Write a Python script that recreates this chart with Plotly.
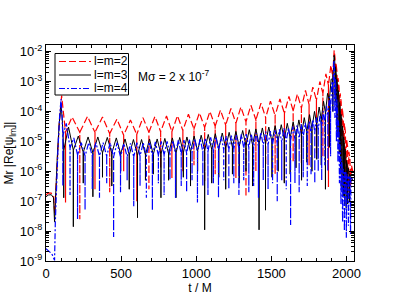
import plotly.graph_objects as go

# ---------------- data ----------------
# l=m=2 (red dashed)
r_pre_t = [0, 15, 35, 50, 58, 65, 75, 88, 104, 115, 122]
r_pre_v = [1.6e-7, 1.9e-7, 1.85e-7, 1.5e-7, 4e-8, 2e-7, 3e-6, 4e-5, 3.4e-4, 1e-4, 4e-5]
r_hump_t = [173, 276, 376, 472, 562, 645, 725, 802, 875, 948, 1021, 1091, 1161, 1231, 1297,
            1364, 1431, 1494, 1557, 1617, 1673, 1727, 1776, 1823, 1863, 1896]
r_hump_v = [6.5e-5, 6.8e-5, 6.5e-5, 5.5e-5, 5.2e-5, 6.2e-5, 6.8e-5, 7.0e-5, 7.2e-5, 8.0e-5,
            9.0e-5, 1.0e-4, 1.1e-4, 1.25e-4, 1.4e-4, 1.6e-4, 1.9e-4, 2.2e-4, 2.6e-4, 3.2e-4,
            3.8e-4, 5.0e-4, 6.5e-4, 1.0e-3, 1.8e-3, 3.5e-3]
r_dip_t = [130, 225, 326, 424, 517, 604, 685, 763, 838, 911, 985, 1056, 1126, 1196, 1264,
           1331, 1397, 1462, 1525, 1587, 1645, 1700, 1751, 1800, 1843, 1880, 1908]
r_floor_v = [2e-5, 2e-5, 2e-5, 1.8e-5, 1.6e-5, 1.7e-5, 2e-5, 2.1e-5, 2.1e-5, 2.3e-5, 2.6e-5,
             2.9e-5, 3.2e-5, 3.5e-5, 4e-5, 4.5e-5, 5.2e-5, 6.2e-5, 7.2e-5, 8.6e-5, 1.05e-4,
             1.3e-4, 1.7e-4, 2.4e-4, 4e-4, 7.5e-4, 1.5e-3]
r_dip_v = [9e-8, 2.5e-8, 2.5e-7, 2e-7, 1e-6, 1e-7, 2.5e-7, 1.3e-6, 6e-7, 1e-6, 1.6e-6, 4.5e-7,
           8e-7, 1.3e-6, 6e-7, 1.4e-7, 1e-6, 1.6e-6, 8e-7, 4.5e-7, 2e-6, 1.8e-6, 1.6e-6, 4e-6,
           3e-6, 3e-7, 3e-4]
r_post_t = [1918, 1924, 1927, 1930, 1937, 1940, 1944, 1951, 1954, 1958, 1965, 1968, 1972,
            1979, 1982, 1986, 1993, 1996, 2000, 2007, 2011, 2016, 2023, 2027, 2033, 2042]
r_post_v = [1.1e-2, 6e-3, 3e-4, 4.2e-3, 2e-3, 6e-5, 1.3e-3, 6e-4, 1e-5, 4e-4, 2e-4, 2e-6,
            1.3e-4, 6e-5, 5e-7, 4e-5, 2e-5, 2e-7, 1.2e-5, 7e-6, 2e-7, 4.5e-6, 2.5e-6, 3e-7,
            1.6e-6, 1e-6]

# l=m=3 (black solid)
b_pre_t = [0, 15, 35, 50, 57, 64, 75, 88, 100, 108, 113]
b_pre_v = [1.4e-7, 1.6e-7, 1.65e-7, 1.3e-7, 2e-8, 2e-7, 3e-6, 4e-5, 1.6e-4, 6e-5, 2e-5]
b_hump_t = [150, 215, 280, 345, 408, 468, 526, 582, 636, 689, 740, 791, 841, 890, 938, 986,
            1033, 1080, 1127, 1173, 1219, 1264, 1309, 1353, 1397, 1440, 1483, 1525, 1566,
            1606, 1645, 1683, 1719, 1754, 1787, 1818, 1847, 1874, 1898]
b_hump_v = [3e-5, 1.5e-5, 1.4e-5, 1.4e-5, 1.35e-5, 1.3e-5, 1.2e-5, 1.15e-5, 1.15e-5, 1.2e-5,
            1.2e-5, 1.25e-5, 1.3e-5, 1.35e-5, 1.4e-5, 1.5e-5, 1.6e-5, 1.7e-5, 1.8e-5, 1.9e-5,
            2.0e-5, 2.15e-5, 2.3e-5, 2.45e-5, 2.6e-5, 2.8e-5, 3.0e-5, 3.3e-5, 3.6e-5, 4.0e-5,
            4.5e-5, 5.2e-5, 6.2e-5, 7.8e-5, 1.0e-4, 1.4e-4, 2.2e-4, 4.0e-4, 1.2e-3]
b_dip_t = [118, 182, 248, 312, 376, 438, 497, 554, 609, 662, 714, 765, 816, 865, 914, 962,
           1009, 1056, 1103, 1150, 1196, 1241, 1286, 1331, 1375, 1418, 1461, 1504, 1545, 1586,
           1625, 1664, 1701, 1736, 1770, 1802, 1832, 1860, 1886, 1909]
b_floor_v = [5e-6, 5e-6, 4.3e-6, 4.2e-6, 4.1e-6, 4e-6, 3.8e-6, 3.5e-6, 3.4e-6, 3.5e-6, 3.6e-6,
             3.7e-6, 3.8e-6, 4e-6, 4.1e-6, 4.4e-6, 4.7e-6, 5e-6, 5.3e-6, 5.6e-6, 5.9e-6,
             6.3e-6, 6.7e-6, 7.1e-6, 7.6e-6, 8.1e-6, 8.7e-6, 9.5e-6, 1.04e-5, 1.15e-5, 1.3e-5,
             1.45e-5, 1.7e-5, 2.1e-5, 2.7e-5, 3.6e-5, 5.4e-5, 9e-5, 2.4e-4, 1.2e-3]
b_dip_v = [1.3e-7, 1.4e-8, 4e-7, 1.4e-7, 6.3e-7, 3.2e-7, 1e-6, 2.5e-7, 2.8e-8, 5e-7, 8e-7,
           1.3e-7, 5e-7, 1.3e-7, 6.3e-7, 3.2e-7, 1e-6, 1.1e-8, 4e-7, 6.3e-7, 2.5e-7, 8e-7,
           4e-7, 1e-6, 3.2e-7, 1.1e-8, 5e-8, 6.3e-7, 1e-6, 4e-7, 8e-7, 1.3e-6, 5e-7, 2e-6,
           1e-6, 2.5e-6, 1.6e-6, 2.5e-7, 6.3e-6, 1e-4]
b_post_t = [1918, 1922, 1925, 1927, 1932, 1934, 1936, 1941, 1943, 1945, 1950, 1952, 1954, 1959,
            1961, 1963, 1968, 1970, 1972, 1977, 1979, 1981, 1986, 1988, 1990, 1996, 1998, 2000,
            2006, 2008, 2010, 2018, 2020, 2022, 2032, 2042]
b_post_v = [7.5e-3, 4.5e-3, 2e-4, 3.1e-3, 1.8e-3, 5e-5, 1.2e-3, 7e-4, 1.5e-5, 5e-4, 3e-4, 4e-6,
            2e-4, 1.2e-4, 1e-6, 8e-5, 5e-5, 3e-7, 3.3e-5, 2e-5, 1.5e-7, 1.4e-5, 8e-6, 8e-8,
            5.5e-6, 3e-6, 6e-8, 2.3e-6, 1.6e-6, 8e-8, 1.3e-6, 9e-7, 1e-7, 8e-7, 6e-7, 5e-7]

# l=m=4 (blue dash-dot)
u_pre_t = [0, 15, 30, 42, 52, 57, 62, 70, 80, 90, 100, 106]
u_pre_v = [2.6e-9, 2.3e-9, 1.9e-9, 1.6e-9, 1.2e-9, 1.05e-9, 2e-8, 5e-7, 6e-6, 6e-5, 2.6e-4, 8e-5]
u_hump_t = [135, 185, 235, 284, 332, 380, 427, 473, 518, 562, 605, 647, 688, 728, 767, 806,
            844, 881, 918, 954, 990, 1026, 1061, 1096, 1131, 1166, 1200, 1234, 1267, 1300,
            1333, 1366, 1398, 1430, 1462, 1493, 1524, 1554, 1584, 1614, 1643, 1671, 1699,
            1726, 1752, 1777, 1801, 1824, 1846, 1867, 1886, 1903]
u_hump_v = [4e-5, 1.3e-5, 9e-6, 9e-6, 9e-6, 9e-6, 9e-6, 9e-6, 8.5e-6, 8.5e-6, 9e-6, 9e-6,
            9.5e-6, 9.5e-6, 1e-5, 1e-5, 1.05e-5, 1.1e-5, 1.1e-5, 1.15e-5, 1.2e-5, 1.25e-5,
            1.3e-5, 1.35e-5, 1.4e-5, 1.45e-5, 1.5e-5, 1.55e-5, 1.6e-5, 1.7e-5, 1.75e-5, 1.8e-5,
            1.9e-5, 2e-5, 2.1e-5, 2.2e-5, 2.35e-5, 2.5e-5, 2.7e-5, 2.9e-5, 3.1e-5, 3.4e-5,
            3.7e-5, 4.1e-5, 4.6e-5, 5.3e-5, 6.2e-5, 7.5e-5, 1.0e-4, 1.5e-4, 3e-4, 1e-3]
u_dip_t = [112, 160, 210, 260, 308, 356, 404, 450, 496, 540, 584, 626, 668, 708, 748, 786,
           825, 862, 900, 936, 972, 1008, 1044, 1078, 1114, 1148, 1183, 1217, 1250, 1284,
           1316, 1350, 1382, 1414, 1446, 1478, 1508, 1539, 1569, 1599, 1628, 1657, 1685,
           1712, 1739, 1764, 1789, 1812, 1835, 1856, 1876, 1894, 1910]
u_floor_v = [1.5e-5, 6e-6, 3.5e-6, 3.2e-6, 3.2e-6, 3.2e-6, 3.2e-6, 3e-6, 3e-6, 3e-6, 3e-6,
             3.2e-6, 3.2e-6, 3.3e-6, 3.4e-6, 3.5e-6, 3.6e-6, 3.8e-6, 3.9e-6, 4e-6, 4.1e-6,
             4.3e-6, 4.4e-6, 4.6e-6, 4.8e-6, 5e-6, 5.2e-6, 5.3e-6, 5.5e-6, 5.8e-6, 6e-6,
             6.2e-6, 6.5e-6, 6.8e-6, 7.2e-6, 7.6e-6, 8e-6, 8.5e-6, 9.2e-6, 1e-5, 1.05e-5,
             1.15e-5, 1.25e-5, 1.4e-5, 1.5e-5, 1.75e-5, 2e-5, 2.4e-5, 3e-5, 4e-5, 6e-5,
             1.2e-4, 6e-4]
u_dip_v = [3.2e-7, 1.6e-7, 2.5e-8, 5e-8, 2.5e-7, 1.3e-7, 4e-7, 6.3e-9, 2e-7, 5e-7, 6.8e-8,
           3.2e-7, 1.3e-7, 5e-8, 4e-7, 1.6e-7, 5e-7, 1.3e-7, 3.2e-7, 2e-7, 5e-7, 9e-8, 3.2e-7,
           1.6e-7, 4e-7, 1.3e-7, 5e-7, 2.5e-7, 4e-7, 1.6e-7, 5e-7, 2e-7, 3.2e-7, 1.3e-7, 5e-7,
           2.5e-7, 4e-7, 1e-7, 5e-7, 2.5e-7, 1.6e-8, 4e-7, 2e-7, 6.3e-7, 3.2e-7, 8e-7, 4e-7,
           1e-6, 5e-7, 1.6e-6, 1e-6, 3.2e-6, 1e-4]
u_post_t = [1916, 1920, 1923, 1926, 1930, 1933, 1936, 1940, 1943, 1946, 1950, 1953, 1956,
            1960, 1963, 1966, 1971, 1974, 1977, 1983, 1986, 1989, 1996, 1999, 2002, 2010,
            2013, 2016, 2024, 2027, 2030, 2038, 2042]
u_post_v = [5e-3, 2.5e-3, 6e-5, 1.2e-3, 5e-4, 1e-5, 2.5e-4, 1e-4, 2e-6, 5e-5, 2e-5, 4e-7,
            1e-5, 4e-6, 8e-8, 2.5e-6, 1.4e-6, 2e-8, 1.2e-6, 1e-6, 1e-8, 1e-6, 9e-7, 6e-9,
            8e-7, 7e-7, 1.5e-8, 7e-7, 6.5e-7, 8e-9, 6e-7, 5.5e-7, 6e-7]

series_names = ["l=m=2", "l=m=3", "l=m=4"]
x_tick_vals = [0, 500, 1000, 1500, 2000]
y_tick_vals = [1e-9, 1e-8, 1e-7, 1e-6, 1e-5, 1e-4, 1e-3, 1e-2]
y_tick_text = ["10<sup>-9</sup>", "10<sup>-8</sup>", "10<sup>-7</sup>", "10<sup>-6</sup>",
               "10<sup>-5</sup>", "10<sup>-4</sup>", "10<sup>-3</sup>", "10<sup>-2</sup>"]


def assemble(pre_t, pre_v, dip_t, floor_v, dip_v, hump_t, hump_v, post_t, post_v):
    """Chain the read-off vertices in time order: each zero of Re(psi) is a
    vertical drop from the arch floor to its dip, then the next hump top."""
    t, v = list(pre_t), list(pre_v)
    for i in range(len(dip_t)):
        t += [dip_t[i], dip_t[i], dip_t[i]]
        v += [floor_v[i], dip_v[i], floor_v[i]]
        if i < len(hump_t):
            t.append(hump_t[i])
            v.append(hump_v[i])
    return t + list(post_t), v + list(post_v)


t22, v22 = assemble(r_pre_t, r_pre_v, r_dip_t, r_floor_v, r_dip_v, r_hump_t, r_hump_v, r_post_t, r_post_v)
t33, v33 = assemble(b_pre_t, b_pre_v, b_dip_t, b_floor_v, b_dip_v, b_hump_t, b_hump_v, b_post_t, b_post_v)
t44, v44 = assemble(u_pre_t, u_pre_v, u_dip_t, u_floor_v, u_dip_v, u_hump_t, u_hump_v, u_post_t, u_post_v)

FONT = "Liberation Sans, Arial, Helvetica, sans-serif"
RED, BLACK, BLUE = "#ff0000", "#000000", "#0000ff"
RED_DASH = "7px,3px"
BLUE_DASH = "6px,2px,2px,2px"

fig = go.Figure()
fig.add_trace(go.Scatter(x=t22, y=v22, mode="lines", name=series_names[0],
                         line=dict(color=RED, width=1.2, dash=RED_DASH)))
fig.add_trace(go.Scatter(x=t33, y=v33, mode="lines", name=series_names[1],
                         line=dict(color=BLACK, width=1)))
fig.add_trace(go.Scatter(x=t44, y=v44, mode="lines", name=series_names[2],
                         line=dict(color=BLUE, width=1.2, dash=BLUE_DASH)))

# plot area in pixels: x 46..354, y 45..261
L, R, T, B = 46, 45, 45, 47
W, H = 399, 308
pw, ph = W - L - R, H - T - B


def px(x):
    return (x - L) / pw


def py(y):
    return (H - B - y) / ph


shapes = [dict(type="rect", xref="paper", yref="paper", x0=px(55), x1=px(128.5),
               y0=py(95), y1=py(53.5), line=dict(color="black", width=1),
               fillcolor="white", layer="above")]
rows = [61.5, 75, 88.5]
styles = [(RED, RED_DASH, 1.2), (BLACK, "solid", 1), (BLUE, BLUE_DASH, 1.2)]
annotations = []
for yy, (c, d, w), name in zip(rows, styles, series_names):
    shapes.append(dict(type="line", xref="paper", yref="paper", x0=px(59), x1=px(91),
                       y0=py(yy), y1=py(yy), line=dict(color=c, width=w, dash=d), layer="above"))
    annotations.append(dict(xref="paper", yref="paper", x=px(92), y=py(yy), text=name,
                            showarrow=False, xanchor="left", yanchor="middle",
                            font=dict(family=FONT, size=12, color="black")))
annotations.append(dict(xref="paper", yref="paper", x=px(136), y=py(76),
                        text="M\u03c3 = 2 x 10<sup>-7</sup>", showarrow=False,
                        xanchor="left", yanchor="middle",
                        font=dict(family=FONT, size=12, color="black")))

minor_y = [m * 10.0 ** e for e in range(-9, -1) for m in range(2, 10)]

fig.update_layout(
    width=W, height=H, margin=dict(l=L, r=R, t=T, b=B, autoexpand=False),
    paper_bgcolor="white", plot_bgcolor="white", showlegend=False, hovermode=False,
    font=dict(family=FONT, size=13, color="black"),
    shapes=shapes, annotations=annotations,
)
fig.update_xaxes(
    range=[0, 2050], tickmode="array", tickvals=x_tick_vals, automargin=False,
    ticks="inside", ticklen=5, tickwidth=1, tickcolor="black",
    showline=True, linecolor="black", linewidth=1, mirror="allticks",
    showgrid=False, zeroline=False, tickfont=dict(size=13),
    minor=dict(dtick=100, tick0=0, ticks="inside", ticklen=3, tickcolor="black", showgrid=False),
    title=dict(text="t / M", font=dict(size=12), standoff=3),
)
fig.update_yaxes(
    type="log", range=[-9, -1.78], tickmode="array", tickvals=y_tick_vals, ticktext=y_tick_text,
    automargin=False,
    ticks="inside", ticklen=5, tickwidth=1, tickcolor="black",
    showline=True, linecolor="black", linewidth=1, mirror="allticks",
    showgrid=False, zeroline=False, tickfont=dict(size=13),
    minor=dict(tickmode="array", tickvals=minor_y, ticks="inside", ticklen=3,
               tickcolor="black", showgrid=False),
    title=dict(text="Mr |Re[\u03c8<sub>lm</sub>]|", font=dict(size=12), standoff=3),
)

fig.write_html("out.html", config={"displayModeBar": False, "staticPlot": True},
               post_script="document.body.style.margin='0px';document.body.style.overflow='hidden';")
